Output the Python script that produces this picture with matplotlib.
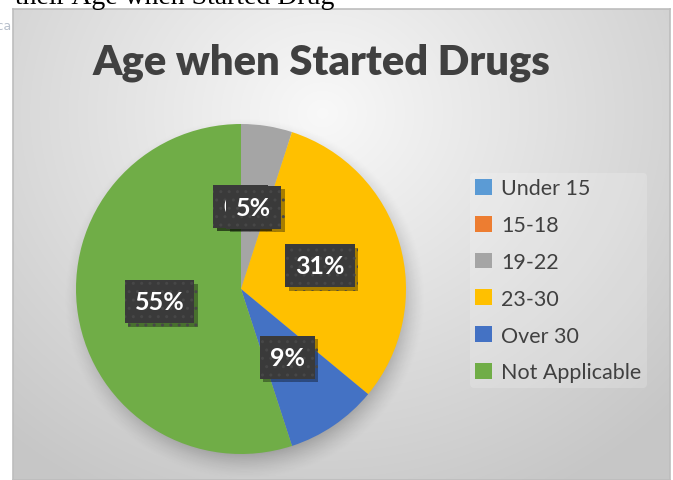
import numpy as np
import matplotlib
matplotlib.use("Agg")
import matplotlib.pyplot as plt
import matplotlib.patheffects as pe

# Survey responses: age at which respondents started drugs (percent)
categories = ["Under 15", "15-18", "19-22", "23-30", "Over 30", "Not Applicable"]
shares = [0, 0, 5, 31, 9, 55]
colors = ["#5B9BD5", "#ED7D31", "#A5A5A5", "#FFC000", "#4472C4", "#70AD47"]
title = "Age when Started Drugs"
caption = "their Age when Started Drug"

W, H = 673, 481
fig = plt.figure(figsize=(W / 100, H / 100), dpi=100)
fig.patch.set_facecolor("white")


def fx(px):
    return px / W


def fy(py):
    return 1 - py / H


# Chart area with a soft radial grey gradient
left, top, right, bottom = 13, 10, 670, 481
bg = fig.add_axes([fx(left), fy(bottom), fx(right - left), fy(top) - fy(bottom)])
ny, nx = 300, 420
yy, xx = np.mgrid[0:ny, 0:nx]
cx, cy = nx * 0.47, ny * 0.22
d = np.sqrt(((xx - cx) / nx) ** 2 + ((yy - cy) / ny * 0.8) ** 2)
v = np.clip(0.975 - 0.27 * d, 0.78, 1.0)
bg.imshow(np.dstack([v, v, v]), aspect="auto", extent=[0, 1, 0, 1], origin="upper",
          interpolation="bilinear")
bg.set_xlim(0, 1)
bg.set_ylim(0, 1)
bg.set_xticks([])
bg.set_yticks([])
for s in bg.spines.values():
    s.set_color("#bdbdbd")
    s.set_linewidth(1.2)

# Caption text of the surrounding document, cut off at the top edge
fig.text(fx(15), fy(4), caption, fontsize=20, family="Liberation Serif",
         color="black", ha="left", va="baseline")
fig.text(fx(12), fy(30), "ica", fontsize=9, family="DejaVu Sans",
         color="#b8c0cc", ha="right", va="baseline")

# Title
fig.text(fx(321), fy(74), title, fontsize=30, fontweight="heavy", family="Lato",
         color="#404040", ha="center", va="baseline")

# Pie
cxp, cyp, r = 241, 290, 165
ax = fig.add_axes([fx(cxp - r), fy(cyp + r), fx(2 * r), fy(cyp - r) - fy(cyp + r)])
ax.axis("off")

# soft drop shadow beneath the pie
sn = 400
gy, gx = np.mgrid[-1.25:1.25:sn * 1j, -1.25:1.25:sn * 1j]
rr = np.sqrt((gx - 0.02) ** 2 + (gy + 0.06) ** 2)
alpha = np.clip((1.1 - rr) / 0.16, 0, 1) ** 1.5 * 0.22
shadow = np.zeros((sn, sn, 4))
shadow[..., 3] = alpha
ax.imshow(shadow, extent=[-1.25, 1.25, -1.25, 1.25], origin="lower", zorder=0,
          interpolation="bilinear", clip_on=False)

wedges, _, autotexts = ax.pie(
    shares, colors=colors, startangle=90, counterclock=False, radius=1,
    autopct="%1.0f%%", pctdistance=0.5,
    wedgeprops=dict(linewidth=0, zorder=2),
    textprops=dict(color="white", fontsize=18, fontweight="bold", family="Lato"),
)
ax.set_xlim(-1, 1)
ax.set_ylim(-1, 1)
for w in wedges:
    w.set_clip_on(False)

for t in autotexts:
    t.set_zorder(5)
    t.set_bbox(dict(boxstyle="square,pad=0.4", facecolor="#3a3a3a",
                    edgecolor="#474747", linewidth=0, hatch=".."))
    t.get_bbox_patch().set_path_effects([
        pe.SimplePatchShadow(offset=(2.5, -2.5), shadow_rgbFace="black", alpha=0.35),
        pe.Normal(),
    ])

# Legend
leg = fig.legend(
    wedges, categories, loc="upper left",
    bbox_to_anchor=(fx(470), fy(174)),
    frameon=True,
    prop=dict(family="Lato", size=15.5),
    handlelength=0.75, handleheight=0.75, handletextpad=0.45,
    labelspacing=0.78, borderpad=0.25, borderaxespad=0,
)
leg.get_frame().set_facecolor("white")
leg.get_frame().set_alpha(0.18)
leg.get_frame().set_edgecolor("none")
for txt in leg.get_texts():
    txt.set_color("#404040")

fig.savefig("out.png", dpi=100)
